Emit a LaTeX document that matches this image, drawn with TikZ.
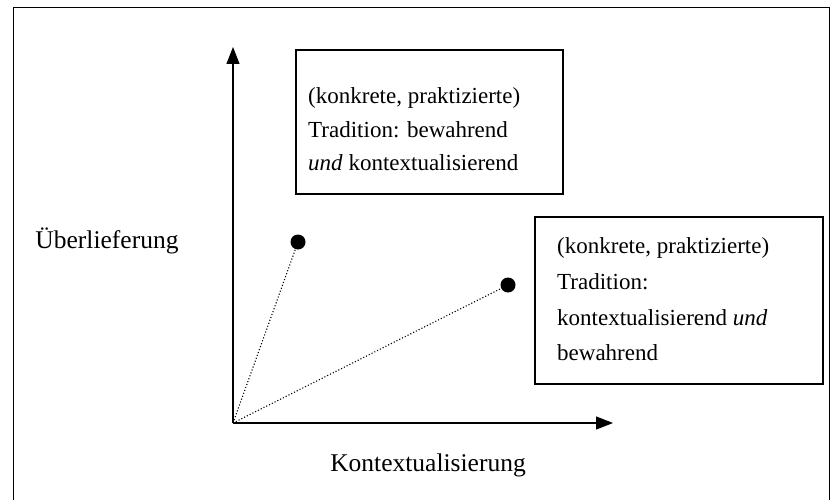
\documentclass[tikz,border=0pt]{standalone}
\usepackage{fontspec}
\setmainfont{Liberation Serif}
\usetikzlibrary{arrows.meta}
\begin{document}
\begin{tikzpicture}[x=1pt,y=-1pt,
  txt/.style={font=\fontsize{23}{36}\selectfont, inner sep=0pt},
  lbl/.style={font=\fontsize{25.5}{30}\selectfont, inner sep=0pt},
  tbox/.style={draw, line width=1.8pt},
  axis/.style={line width=1.2pt, -{Triangle[length=17pt,width=13pt]}},
  ray/.style={dotted, line width=1.1pt},
  dot/.style={circle, fill=black, minimum size=15pt, inner sep=0pt}]
\useasboundingbox (0,0) rectangle (837,500);
\draw[line width=0.9pt] (13,510) -- (13,7) -- (829,7) -- (829,510);
\coordinate (o) at (233,423);
\coordinate (ytip) at (233,47);
\coordinate (xtip) at (613,423);
\draw[axis] (o) -- (ytip);
\draw[axis] (o) -- (xtip);
\draw[tbox] (296,50) rectangle (563,194);
\draw[tbox] (535,217) rectangle (823,384);
\node[txt, anchor=base west] (b1a) at (308,104) {(konkrete, praktizierte)};
\node[txt, anchor=base west] (b1b) at (308,137) {Tradition: bewahrend};
\node[txt, anchor=base west] (b1c) at (308,170) {\textit{und} kontextualisierend};
\node[txt, anchor=base west] (b2a) at (557,253) {(konkrete, praktizierte)};
\node[txt, anchor=base west] (b2b) at (557,289) {Tradition:};
\node[txt, anchor=base west] (b2c) at (557,325) {kontextualisierend \textit{und}};
\node[txt, anchor=base west] (b2d) at (557,360) {bewahrend};
\node[dot] (d1) at (298,242) {};
\node[dot] (d2) at (508,285) {};
\draw[ray] (o) -- (d1);
\draw[ray] (o) -- (d2);
\node[lbl, anchor=base] (ul) at (107,248) {Überlieferung};
\node[lbl, anchor=base] (kl) at (428,471) {Kontextualisierung};
\end{tikzpicture}
\end{document}
